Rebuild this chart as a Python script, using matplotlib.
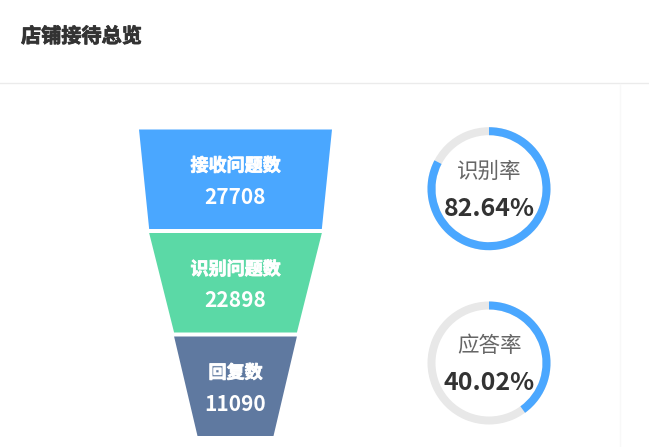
import matplotlib
matplotlib.use("Agg")
import matplotlib.pyplot as plt
import matplotlib.patheffects as pe
from matplotlib.patches import Polygon, Wedge

plt.rcParams['font.family'] = ['Noto Sans CJK SC', 'DejaVu Sans']

# ---- data ----
title = "店铺接待总览"
funnel_labels = ["接收问题数", "识别问题数", "回复数"]
funnel_values = [27708, 22898, 11090]
funnel_colors = ["#4aa7ff", "#5bd9a6", "#5f79a0"]
rate_labels = ["识别率", "应答率"]
rate_values = [82.64, 40.02]

W, H = 649, 447
fig = plt.figure(figsize=(W / 100, H / 100), dpi=100)
ax = fig.add_axes([0, 0, 1, 1])
ax.set_xlim(0, W)
ax.set_ylim(H, 0)
ax.axis('off')

# header
ax.text(21, 36, title, fontsize=14.5, fontweight='bold', color='#333333',
        ha='left', va='center',
        path_effects=[pe.withStroke(linewidth=0.6, foreground='#333333')])
ax.plot([0, W], [83, 83], color='#ebebeb', lw=1)
ax.plot([620, 620], [84, H], color='#f8f8f8', lw=1)

# funnel
cx = 235.5
max_w, min_w = 193.0, 76.0
top = 129.5
seg_h = 99.5
gap = 4.0
vmax = max(funnel_values)


def width_of(v):
    return min_w + (max_w - min_w) * v / vmax


for i, (lab, val, col) in enumerate(zip(funnel_labels, funnel_values, funnel_colors)):
    nxt = funnel_values[i + 1] if i + 1 < len(funnel_values) else 0
    y0 = top + i * (seg_h + gap)
    y1 = y0 + seg_h
    w0, w1 = width_of(val), width_of(nxt)
    poly = Polygon([[cx - w0 / 2, y0], [cx + w0 / 2, y0],
                    [cx + w1 / 2, y1], [cx - w1 / 2, y1]],
                   closed=True, facecolor=col, edgecolor='none')
    ax.add_patch(poly)
    ym = (y0 + y1) / 2
    ax.text(cx, ym - 13.5, lab, fontsize=13, fontweight='bold', color='white',
            ha='center', va='center',
            path_effects=[pe.withStroke(linewidth=0.6, foreground='white')])
    ax.text(cx, ym + 18, f"{val}", fontsize=15, fontweight='bold', color='white',
            ha='center', va='center')

# rate rings
ring_cx = 489
ring_cys = [188.7, 363]
r_out = 61.5
ring_w = 8
for lab, val, cy in zip(rate_labels, rate_values, ring_cys):
    ax.add_patch(Wedge((ring_cx, cy), r_out, 0, 360, width=ring_w,
                       facecolor='#e8e8e8', edgecolor='none'))
    # y axis inverted: angles go clockwise on screen; start at top (-90)
    ax.add_patch(Wedge((ring_cx, cy), r_out, -90, -90 + 360 * val / 100,
                       width=ring_w, facecolor='#4aa7ff', edgecolor='none'))
    ax.text(ring_cx, cy - 17, lab, fontsize=15.5, color='#666666',
            ha='center', va='center')
    ax.text(ring_cx, cy + 20, f"{val:.2f}%", fontsize=18, fontweight='bold',
            color='#333333', ha='center', va='center')

fig.savefig("out.png", dpi=100)
